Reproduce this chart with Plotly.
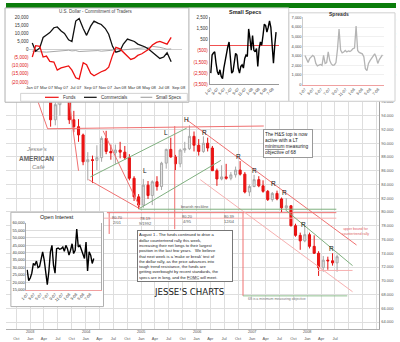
import plotly.graph_objects as go
import pandas as pd

W, H = 400, 342

# ---------------- main chart: US Dollar Index, monthly bars ----------------
bar_month = pd.date_range("2002-10-01", periods=70, freq="MS") + pd.Timedelta(days=14)
usd_open = [106.8, 106.0, 106.4,
            102.0, 99.3, 100.0, 99.5, 97.3, 93.4, 95.6, 97.2, 97.8, 93.4, 92.4, 91.2,
            87.3, 87.6, 87.5, 87.9, 90.7, 88.8, 88.6, 89.0, 88.7, 87.9, 84.9, 82.2,
            81.0, 83.9, 82.4, 84.4, 83.7, 87.1, 89.1, 88.0, 87.0, 89.0, 89.2, 91.0,
            89.7, 88.8, 90.0, 89.3, 86.0, 84.8, 85.1, 84.9, 85.4, 86.1, 85.5, 82.9,
            83.7, 84.7, 83.8, 83.0, 81.8, 82.7, 81.9, 80.6, 80.9, 78.0, 76.6, 75.8,
            76.7, 75.0, 74.0, 71.9, 73.0, 72.9, 72.6]
usd_high = [107.9, 107.0, 106.8,
            102.6, 100.5, 102.1, 100.5, 97.8, 96.2, 97.6, 99.2, 98.5, 94.7, 93.5, 91.4,
            88.7, 88.2, 89.7, 91.0, 91.8, 89.8, 89.8, 90.2, 89.6, 88.4, 85.2, 82.6,
            84.8, 84.5, 84.6, 85.2, 87.3, 89.2, 90.8, 88.3, 89.2, 90.2, 92.6, 91.7,
            90.6, 91.0, 90.8, 89.6, 86.3, 86.8, 87.0, 85.8, 86.6, 87.4, 85.8, 84.0,
            85.4, 85.2, 84.6, 83.2, 82.9, 83.1, 82.1, 82.0, 81.0, 78.3, 77.0, 77.9,
            77.0, 76.6, 74.3, 73.6, 73.5, 74.0, 73.8]
usd_low = [105.6, 104.6, 101.8,
           98.9, 98.7, 98.4, 96.6, 92.4, 92.6, 94.0, 96.4, 92.8, 91.6, 90.2, 86.8,
           84.6, 84.2, 86.1, 87.3, 88.4, 87.6, 87.0, 87.8, 87.6, 84.6, 81.6, 80.4,
           80.6, 81.9, 81.0, 83.1, 83.2, 86.3, 87.9, 86.1, 86.5, 88.6, 89.0, 88.8,
           88.2, 88.6, 88.8, 86.0, 83.8, 84.6, 84.7, 84.6, 85.0, 85.3, 82.7, 82.3,
           83.6, 83.6, 82.8, 81.6, 81.5, 81.7, 80.0, 80.3, 77.9, 76.4, 74.5, 75.6,
           74.7, 73.9, 70.7, 71.3, 71.6, 72.2, 71.3]
usd_close = [106.0, 106.4, 102.0,
             99.3, 100.0, 99.5, 97.3, 93.4, 95.6, 97.2, 97.8, 93.4, 92.4, 91.2, 87.3,
             87.6, 87.5, 87.9, 90.7, 88.8, 88.6, 89.0, 88.7, 87.9, 84.9, 82.2, 81.0,
             83.9, 82.4, 84.4, 83.7, 87.1, 89.1, 88.0, 87.0, 89.0, 89.2, 91.0, 89.7,
             88.8, 90.0, 89.3, 86.0, 84.8, 85.1, 84.9, 85.4, 86.1, 85.5, 82.9, 83.7,
             84.7, 83.8, 83.0, 81.8, 82.7, 81.9, 80.6, 80.9, 78.0, 76.6, 75.8, 76.7,
             75.0, 74.0, 71.9, 73.0, 72.9, 72.6, 73.5]

# trend lines (start date, start value, end date, end value)
red_lines = [("2003-02-20", 96.1, "2003-04-25", 92.1),
             ("2003-04-25", 92.1, "2007-03-20", 92.5),
             ("2003-09-15", 96.1, "2003-11-15", 86.0),
             ("2004-01-20", 84.7, "2004-12-20", 80.5),
             ("2004-04-25", 91.8, "2004-12-25", 80.6),
             ("2005-10-28", 93.4, "2008-11-20", 75.2),
             ("2004-05-20", 79.9, "2008-07-10", 79.9),
             ("2005-08-10", 92.5, "2005-08-10", 77.5),
             ("2006-11-03", 79.9, "2006-11-03", 67.8),
             ("2004-06-04", 79.9, "2004-06-04", 76.8)]
pink_lines = [("2004-05-01", 79.1, "2008-07-10", 79.1),
              ("2006-01-25", 84.7, "2008-10-25", 68.4),
              ("2008-03-10", 71.5, "2008-10-25", 71.5)]
green_lines = [("2004-12-20", 80.5, "2006-06-10", 87.5),
               ("2004-02-01", 85.1, "2005-10-28", 92.2),
               ("2004-12-20", 80.4, "2008-07-10", 80.4),
               ("2007-08-10", 80.3, "2008-10-25", 72.2)]
objective_line = [("2006-11-03", 67.8, "2008-09-20", 67.8)]

pattern_labels = ["H", "L", "L", "R", "R", "R", "R", "R", "R", "R"]
pattern_dates = ["2005-10-26", "2005-01-29", "2005-06-13", "2006-02-25", "2006-10-02",
                 "2007-01-19", "2007-05-21", "2007-08-06", "2007-12-06", "2008-06-10"]
pattern_values = [93.4, 86.0, 91.6, 91.6, 88.1, 86.1, 84.2, 82.9, 78.2, 74.7]

# ---------------- COT inset (thousands of contracts) ----------------
cot_dates = pd.date_range("2007-01-01", periods=39, freq="SMS")
cot_funds = [-4.6, 2.4, 2.0, -4.6, -4.0, -7.3, -7.7, -12.7, -11.3, -10.7, -10.1, -12.7, -17.4,
             -18.2, -8.1, -9.3, -14.7, -16.2, -14.7, -13.7, -12.7, -10.9, -3.6, 1.4, 0.4, -1.6,
             -4.6, -6.1, -5.3, -3.6, -2.6, -1.2, 0.4, 2.8, 4.4, 5.1, 4.0, 3.4, 7.5]
cot_comm = [4.0, -1.0, 1.0, 7.5, 9.0, 10.5, 13.5, 14.0, 11.5, 10.0, 6.0, 5.0, 17.6,
            19.2, 13.0, 8.8, 14.5, 17.6, 16.4, 15.5, 13.0, 9.5, 2.0, -1.6, -0.8, 3.4,
            6.5, 6.0, 5.0, 3.4, 2.6, 1.6, 0.0, -1.6, -3.6, -5.5, -4.6, -2.0, -7.5]
cot_small = [-1.0, -1.2, -1.4, -1.4, -1.6, -1.4, -1.2, -1.0, -0.8, -0.6, -0.4, -0.8, -0.6,
             -1.2, -1.0, -1.0, -0.6, -0.4, -0.6, -1.0, -0.8, -0.6, -0.4, 0.2, 0.4, -0.2,
             0.0, 0.4, 0.6, 0.6, 0.8, 1.0, 1.4, 2.0, 1.8, 1.4, 0.8, 0.2, 0.4]
cot_ticks = [-20000, -15000, -10000, -5000, 0, 5000, 10000, 15000, 20000]
cot_ticktext = ["(20,000)", "(15,000)", "(10,000)", "(5,000)", "0",
                "5,000", "10,000", "15,000", "20,000"]

# ---------------- Small Specs inset ----------------
small_specs = [-2500, -880, -700, -590, -1600, -2350, -2650, -2200, -2800, -3000,
               -2050, -1300, -600, -150, 300, -1000, -2500, -2350, -1600, -730,
               -880, -2050, -2500, -1900, -1760, -2050, -1180, -880, -1000, 1470,
               590, -440, 880, -440, -590, -300, -1900, -300, 300, 0,
               880, 1900, 1760, 1180, 1620, 2200, 1620, -300, -1600, 0, 1180]
ss_ticks = [-3500, -2500, -1500, -500, 500, 1500, 2500]
ss_ticktext = ["(3,500)", "(2,500)", "(1,500)", "(500)", "500", "1,500", "2,500"]

# ---------------- Spreads inset ----------------
spreads = [3040, 2600, 2300, 2700, 2900, 3050, 2900, 2200, 1950, 2000, 2100, 2000, 3050,
           2200, 2300, 3400, 2500, 2150, 2000, 2050, 2300, 3700, 5800, 3600, 3300, 3400,
           3550, 3400, 3500, 3450, 3550, 3750, 3800, 6100, 3550, 3350, 3300, 3200, 2900,
           1650, 1450, 2200, 2500, 2750, 3000, 3200, 2850, 2200, 2600, 2800, 3100]

# ---------------- Open Interest inset ----------------
open_interest = [28300, 21000, 22800, 26100, 32700, 31600, 34300, 29800, 30500, 36000,
                 40500, 35000, 26100, 18300, 27200, 40500, 44900, 31600, 26100, 42700,
                 43100, 42300, 42700, 43800, 40900, 44900, 42700, 38300, 41600, 46000,
                 39400, 41600, 56000, 43800, 44900, 41600, 38300, 36000, 47100, 27600,
                 40500, 38300, 32700, 36000]

FONT = "Liberation Sans, Arial, sans-serif"


def fx(x):
    return x / W


def fy(y):
    return 1 - y / H


def dom_x(x0, x1):
    return [x0 / W, x1 / W]


def dom_y(ytop, ybot):
    return [1 - ybot / H, 1 - ytop / H]


def seg_xy(segs):
    xs, ys = [], []
    for a, b, c, d in segs:
        xs += [a, c, None]
        ys += [b, d, None]
    return xs, ys


def red_neg(labels):
    return [f"<span style='color:#e01010'>{t}</span>" if t.startswith("(") else t for t in labels]


fig = go.Figure()

# ---- main chart traces ----
fig.add_trace(go.Candlestick(
    x=bar_month, open=usd_open, high=usd_high, low=usd_low, close=usd_close,
    increasing=dict(line=dict(color="#a8a8a8", width=1), fillcolor="#e4e4e4"),
    decreasing=dict(line=dict(color="#e41010", width=1), fillcolor="#f01414"),
    whiskerwidth=0, showlegend=False, xaxis="x", yaxis="y", hoverinfo="skip"))

for segs, col, wd, dash in [(red_lines, "#f07070", 1, "solid"),
                            (pink_lines, "#f7b0b0", 1, "solid"),
                            (green_lines, "#7fb07f", 1, "solid"),
                            (objective_line, "#8fbf8f", 1, "solid")]:
    xs, ys = seg_xy(segs)
    fig.add_trace(go.Scatter(x=xs, y=ys, mode="lines", line=dict(color=col, width=wd, dash=dash),
                             showlegend=False, hoverinfo="skip", xaxis="x", yaxis="y"))


def add_bg(n):
    fig.add_trace(go.Scatter(x=[0, 1, 1, 0, 0], y=[0, 0, 1, 1, 0], mode="lines", fill="toself",
                             fillcolor="white", line=dict(width=0), showlegend=False,
                             hoverinfo="skip", xaxis=f"x{n}", yaxis=f"y{n}"))


# ---- COT inset ----
add_bg(2)
fig.add_trace(go.Scatter(x=cot_dates, y=[v * 1000 for v in cot_small], mode="lines",
                         line=dict(color="#a8a8a8", width=1), showlegend=False, xaxis="x3", yaxis="y3"))
fig.add_trace(go.Scatter(x=cot_dates, y=[v * 1000 for v in cot_comm], mode="lines",
                         line=dict(color="#111111", width=1.3), showlegend=False, xaxis="x3", yaxis="y3"))
fig.add_trace(go.Scatter(x=cot_dates, y=[v * 1000 for v in cot_funds], mode="lines",
                         line=dict(color="#ee1111", width=1.3), showlegend=False, xaxis="x3", yaxis="y3"))

# ---- Small Specs inset ----
add_bg(4)
fig.add_trace(go.Scatter(x=pd.date_range("2007-01-01", "2008-08-01", periods=len(small_specs)),
                         y=small_specs, mode="lines", line=dict(color="#000000", width=1.4),
                         showlegend=False, xaxis="x5", yaxis="y5"))

# ---- Spreads inset ----
add_bg(6)
fig.add_trace(go.Scatter(x=pd.date_range("2007-01-01", "2008-08-01", periods=len(spreads)),
                         y=spreads, mode="lines", line=dict(color="#b4b4b4", width=1.3),
                         showlegend=False, xaxis="x7", yaxis="y7"))

# ---- Open interest inset ----
add_bg(8)
fig.add_trace(go.Scatter(x=pd.date_range("2007-01-01", "2008-08-01", periods=len(open_interest)),
                         y=open_interest, mode="lines", line=dict(color="#000000", width=1.4),
                         showlegend=False, xaxis="x9", yaxis="y9"))

tiny = dict(family=FONT, size=4, color="#555")

quarters = pd.date_range("2002-10-01", "2009-04-01", freq="QS")
q_text = [d.strftime("%b") if d <= pd.Timestamp("2008-07-01") else "" for d in quarters]
bi_month = pd.date_range("2007-01-01", "2008-07-01", freq="2MS")

hidden = dict(visible=False, range=[0, 1], fixedrange=True)

fig.update_layout(
    width=W, height=H, margin=dict(l=0, r=0, t=0, b=0),
    paper_bgcolor="white", plot_bgcolor="white", showlegend=False,
    font=dict(family=FONT),
    xaxis=dict(domain=dom_x(0, 383), type="date", range=["2002-07-25", "2009-04-20"],
               tickvals=quarters, ticktext=q_text, tickfont=tiny, ticks="", tickangle=0,
               ticklabelstandoff=5,
               showgrid=True, gridcolor="#dedede", gridwidth=1, zeroline=False,
               showline=True, linecolor="#b0b0b0", anchor="y", rangeslider=dict(visible=False)),
    yaxis=dict(domain=dom_y(5, 332), range=[62.96, 109.67], side="right", dtick=2, tick0=0,
               tickformat=".3f", tickfont=tiny, ticks="", showgrid=True, gridcolor="#dedede",
               zeroline=False, showline=True, linecolor="#a0a0a0", anchor="x"),
    # COT
    xaxis2=dict(domain=dom_x(0, 188), anchor="y2", **hidden),
    yaxis2=dict(domain=dom_y(5, 101), anchor="x2", **hidden),
    xaxis3=dict(domain=dom_x(24, 180), anchor="y3", type="date", range=["2006-12-20", "2008-09-13"],
                tickvals=pd.date_range("2007-01-01", "2008-09-01", freq="2MS"), tickformat="%b %y",
                tickangle=0, tickfont=dict(family=FONT, size=4.2, color="#333"), ticks="",
                showgrid=False, zeroline=False, showline=False),
    yaxis3=dict(domain=dom_y(12, 82), anchor="x3", range=[-21000, 21500], tickvals=cot_ticks,
                ticktext=red_neg(cot_ticktext), tickfont=dict(family=FONT, size=4.5, color="#333"),
                ticks="", showgrid=False, zeroline=True, zerolinecolor="#cfcfcf", zerolinewidth=1,
                showline=False),
    # Small Specs
    xaxis4=dict(domain=dom_x(188, 290), anchor="y4", **hidden),
    yaxis4=dict(domain=dom_y(5, 100), anchor="x4", **hidden),
    xaxis5=dict(domain=dom_x(209, 280), anchor="y5", type="date", range=["2006-12-23", "2008-08-27"],
                tickvals=bi_month, tickformat="%-m-%y", tickangle=-45,
                tickfont=dict(family=FONT, size=4, color="#333"), ticks="", showgrid=False,
                zeroline=False, showline=True, linecolor="#999"),
    yaxis5=dict(domain=dom_y(14.7, 82.7), anchor="x5", range=[-3500, 2500], tickvals=ss_ticks,
                ticktext=red_neg(ss_ticktext), tickfont=dict(family=FONT, size=4.5, color="#333"),
                ticks="", showgrid=False, zeroline=True, zerolinecolor="#f05050", zerolinewidth=1,
                showline=True, linecolor="#999"),
    # Spreads
    xaxis6=dict(domain=dom_x(290, 400), anchor="y6", **hidden),
    yaxis6=dict(domain=dom_y(5, 100), anchor="x6", **hidden),
    xaxis7=dict(domain=dom_x(305, 388), anchor="y7", type="date", range=["2006-12-20", "2008-08-15"],
                tickvals=bi_month, tickformat="%-m-%y", tickangle=-45,
                tickfont=dict(family=FONT, size=4, color="#444"), ticks="", showgrid=False,
                zeroline=False, showline=True, linecolor="#f0a0a0"),
    yaxis7=dict(domain=dom_y(14.7, 83), anchor="x7", range=[0, 7000], dtick=1000,
                tickformat=",", tickfont=dict(family=FONT, size=4, color="#444"), ticks="",
                showgrid=True, gridcolor="#f0f0f0", zeroline=False, showline=True, linecolor="#cccccc"),
    # Open interest
    xaxis8=dict(domain=dom_x(5, 100), anchor="y8", **hidden),
    yaxis8=dict(domain=dom_y(213, 309), anchor="x8", **hidden),
    xaxis9=dict(domain=dom_x(21, 97), anchor="y9", type="date", range=["2006-12-26", "2008-09-29"],
                tickvals=bi_month, tickformat="%-m-%y", tickangle=-45,
                tickfont=dict(family=FONT, size=4, color="#333"), ticks="", showgrid=False,
                zeroline=False, showline=True, linecolor="#f0a0a0", mirror=False),
    yaxis9=dict(domain=dom_y(224, 291.7), anchor="x9", range=[15000, 60000], dtick=5000,
                tickformat=",", tickfont=dict(family=FONT, size=4, color="#333"), ticks="",
                showgrid=True, gridcolor="#dddddd", zeroline=False, showline=True,
                linecolor="#aaaaaa", mirror=True),
)

shapes = []
# top green band
shapes.append(dict(type="rect", xref="paper", yref="paper", x0=0, x1=1, y0=fy(5), y1=1,
                   fillcolor="#0b7d0b", line=dict(width=0), layer="above"))
# inset borders
for (x0, y0, x1, y1, col) in [(-1, 5, 187.5, 101, "#b0b0b0"), (187.5, 5, 290, 100, "#d0d0d0"),
                              (290, 10, 399, 100, "#d0d0d0"), (5, 213, 100, 309, "#b0b0b0")]:
    shapes.append(dict(type="rect", xref="paper", yref="paper", x0=fx(x0), x1=fx(x1),
                       y0=fy(y1), y1=fy(y0), line=dict(color=col, width=1), layer="above"))
# COT legend box and keys
shapes.append(dict(type="rect", xref="paper", yref="paper", x0=fx(15), x1=fx(186), y0=fy(100),
                   y1=fy(92), line=dict(color="#c8c8c8", width=0.8), layer="above"))
legend_keys = [(40, 54, "#ee1111", "Funds"), (80, 93, "#111111", "Commercials"),
               (138, 150, "#a8a8a8", "Small Specs")]
annotations = []
for x0, x1, col, name in legend_keys:
    shapes.append(dict(type="line", xref="paper", yref="paper", x0=fx(x0), x1=fx(x1),
                       y0=fy(96), y1=fy(96), line=dict(color=col, width=1.2), layer="above"))
    annotations.append(dict(xref="paper", yref="paper", x=fx(x1 + 2), y=fy(96), text=name,
                            showarrow=False, xanchor="left", yanchor="middle",
                            font=dict(family=FONT, size=4.5, color="#333")))


def ann(x, y, text, size=4.5, color="#333", xanchor="center", family=FONT):
    annotations.append(dict(xref="paper", yref="paper", x=fx(x), y=fy(y), text=text,
                            showarrow=False, xanchor=xanchor, yanchor="middle",
                            font=dict(family=family, size=size, color=color)))


# inset titles
ann(92, 9, "U.S. Dollar - Commitment of Traders", 4.5, "#444")
ann(245, 9.5, "<b>Small Specs</b>", 5.5, "#222")
ann(342, 11.5, "<b>Spreads</b>", 5, "#333")
ann(52, 218, "Open Interest", 5.5, "#111")

# year labels on main axis
for yr in range(2003, 2009):
    annotations.append(dict(xref="x", yref="paper", x=f"{yr}-01-01", y=fy(334.6), text=str(yr),
                            showarrow=False, xanchor="center", yanchor="middle",
                            font=dict(family=FONT, size=3.8, color="#555")))

# pattern labels
for lab, d, v in zip(pattern_labels, pattern_dates, pattern_values):
    annotations.append(dict(xref="x", yref="y", x=d, y=v, text=lab, showarrow=False,
                            font=dict(family=FONT, size=6.5, color="#111")))

# small price notes
ann(114, 221, "80.70<br>2/01", 4, "#555")
ann(143, 222, "78.19<br>9/1992", 4, "#555")
ann(186, 220, "80.20<br>4/95", 4, "#555")
ann(229, 220, "80.39<br>12/04", 4, "#555")
ann(177, 208, "bearish neckline", 3.8, "#555", xanchor="left")
ann(358, 233, "upper bound for<br>countertrend rally", 3.5, "#e06060")
ann(278, 301, "68 is a minimum measuring objective", 3.5, "#777")

# text boxes
annotations.append(dict(
    xref="paper", yref="paper", x=fx(289), y=fy(143), xanchor="center", yanchor="middle",
    text="The H&S top is now<br>active with a LT<br><u>minimum</u> measuring<br>objective of 68",
    showarrow=False, align="left", bgcolor="white", bordercolor="#999", borderwidth=1,
    borderpad=1, width=46, height=25, font=dict(family=FONT, size=4.8, color="#222")))
annotations.append(dict(
    xref="paper", yref="paper", x=fx(183.5), y=fy(257.5), xanchor="center", yanchor="middle",
    text=("August 1 - The funds continued to drive a<br>dollar countertrend rally this week,<br>"
          "increasing their net longs to their largest<br>position in the last few years.   We believe<br>"
          "that next week is a 'make or break' test of<br>the dollar rally, as the price advances into<br>"
          "tough trend resistance, the funds are<br>getting overbought by recent standards, the<br>"
          "specs are in long, and the <u>FOMC</u> will meet."),
    showarrow=False, align="left", bgcolor="white", bordercolor="#777", borderwidth=1,
    borderpad=1, width=92, height=48, font=dict(family=FONT, size=4.1, color="#222")))

# signature and logo
ann(188, 294, "JESSE'S CHARTS", 8.6, "#222", family="DejaVu Sans")
ann(31, 149, "<i>Jesse's</i>", 6, "#888")
ann(31, 158, "<b>AMERICAN</b>", 6.5, "#666")
ann(33, 167, "<i>Café</i>", 6, "#888")

fig.update_layout(shapes=shapes, annotations=annotations)
fig.write_html("out.html")
